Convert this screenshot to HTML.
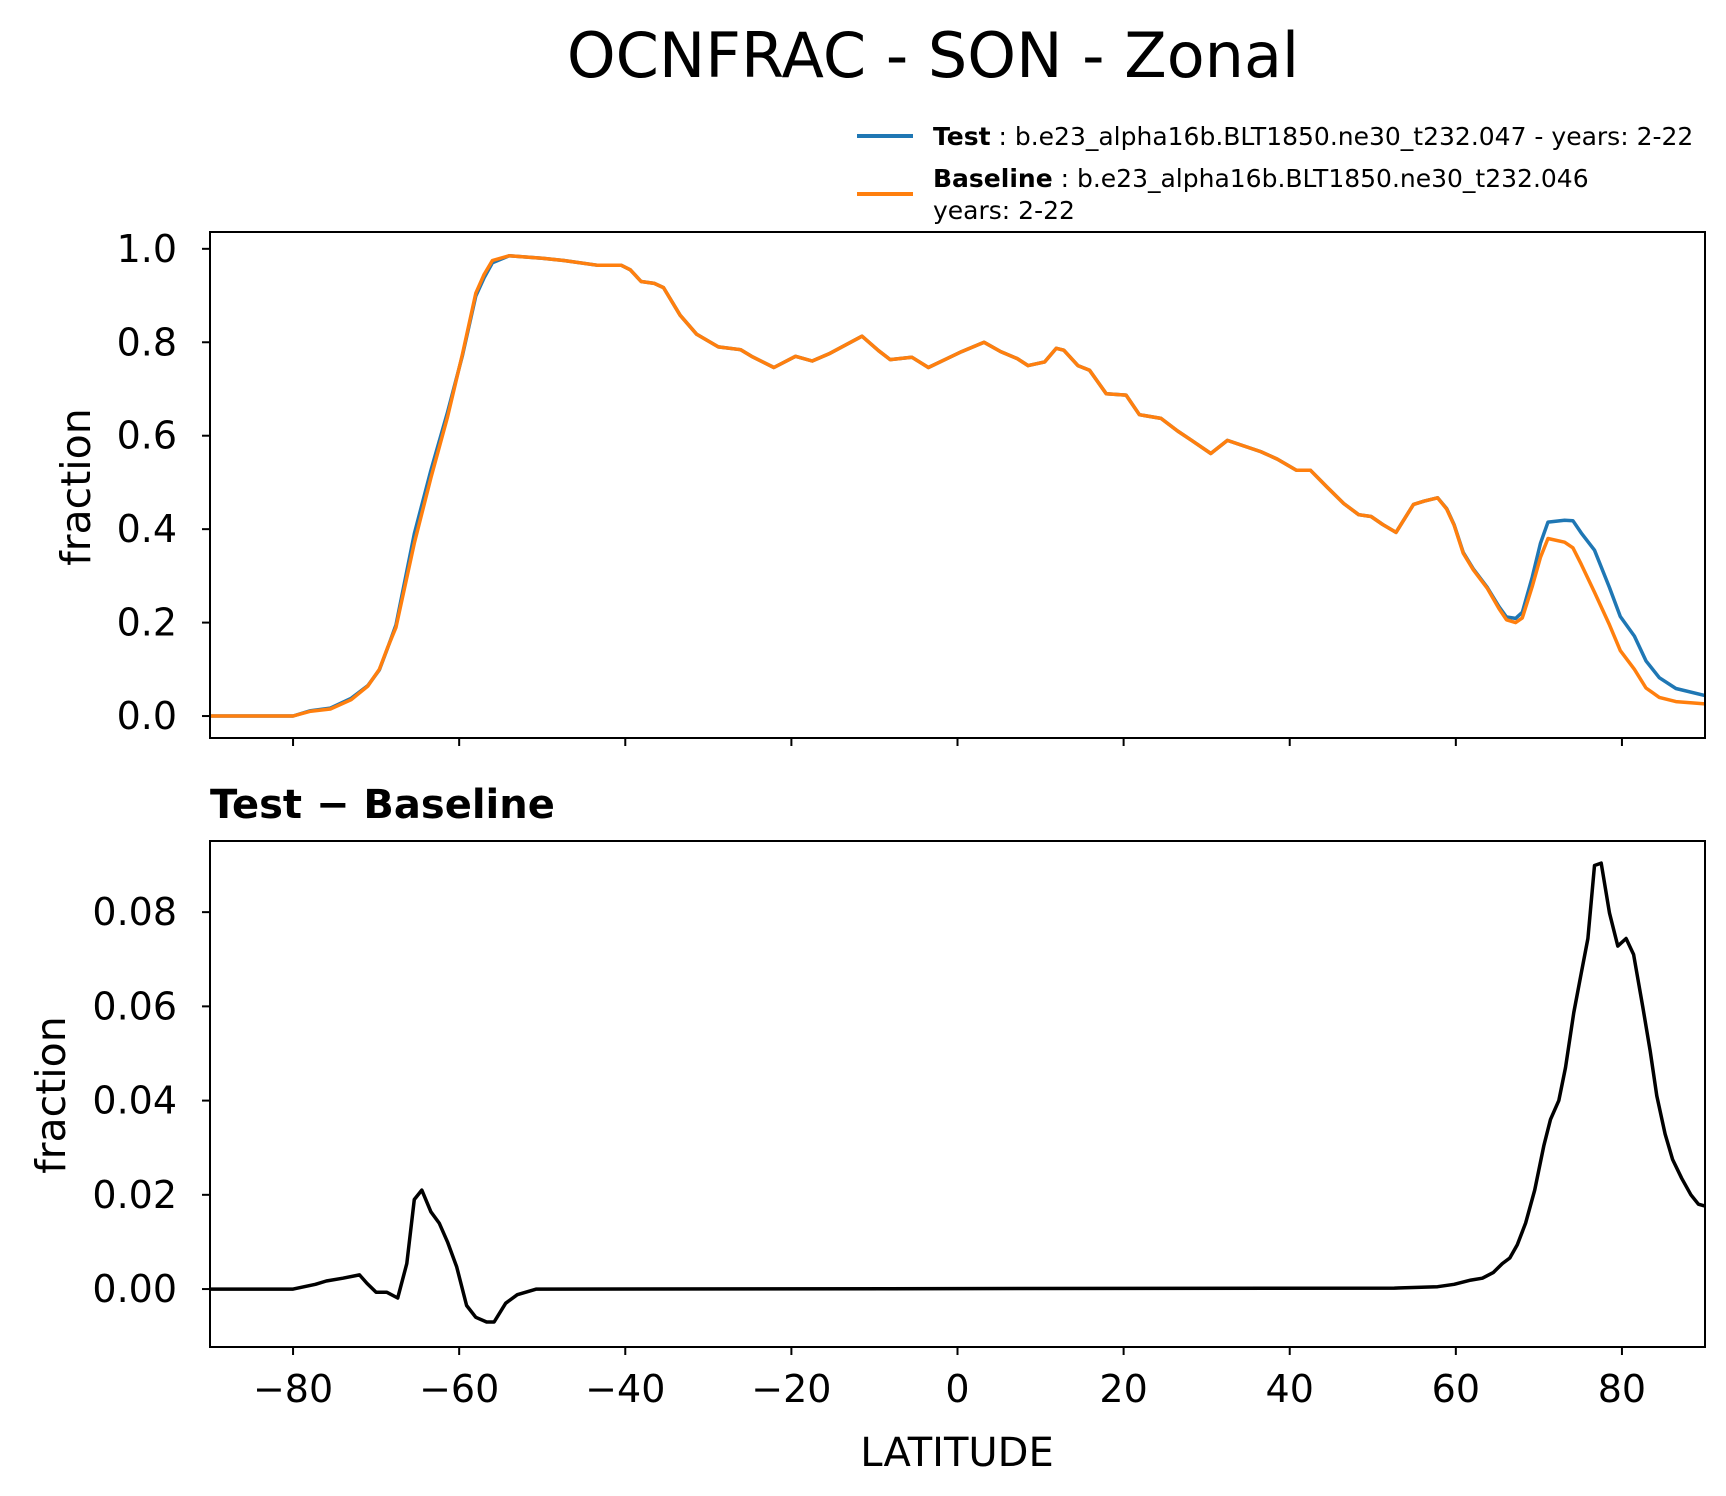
<!DOCTYPE html>
<html><head><meta charset="utf-8"><style>
html,body{margin:0;padding:0;background:#fff}
svg{display:block;font-family:"DejaVu Sans","Liberation Sans",sans-serif}
</style></head><body>
<svg id="chart" width="1726" height="1496" viewBox="0 0 1726 1496" xmlns="http://www.w3.org/2000/svg">
<text x="933" y="77" font-size="62" text-anchor="middle">OCNFRAC - SON - Zonal</text>
<g>
<line x1="857" y1="136" x2="913" y2="136" stroke="#1f77b4" stroke-width="4"/>
<text x="933" y="145" font-size="25"><tspan font-weight="bold">Test</tspan> : b.e23_alpha16b.BLT1850.ne30_t232.047 - years: 2-22</text>
<line x1="857" y1="194" x2="913" y2="194" stroke="#ff7f0e" stroke-width="4"/>
<text x="933" y="187" font-size="25"><tspan font-weight="bold">Baseline</tspan> : b.e23_alpha16b.BLT1850.ne30_t232.046</text>
<text x="933" y="219" font-size="25">years: 2-22</text>
</g>
<g id="top"></g>
<g id="bot"></g>
<text x="210" y="818" font-size="40" font-weight="bold">Test − Baseline</text>
<text x="957" y="1466" font-size="40" text-anchor="middle">LATITUDE</text>
<text transform="translate(90,487) rotate(-90)" font-size="41" text-anchor="middle">fraction</text>
<text transform="translate(65,1095) rotate(-90)" font-size="41" text-anchor="middle">fraction</text>
</svg>
<script>
const lats = [-90,-80,-78,-75.5,-73,-71,-69.6,-68.6,-67.6,-65.4,-63.4,-61.4,-59.6,-58,-57,-56,-54,-50,-47.4,-43.4,-40.5,-39.4,-38.1,-36.5,-35.4,-33.4,-31.4,-28.8,-26.1,-24.8,-22.1,-19.5,-17.5,-15.5,-13.5,-11.5,-9.5,-8.1,-5.5,-3.5,-1.5,0.5,3.2,5.2,7.2,8.5,10.5,11.9,12.8,14.5,15.9,17.9,20.3,21.9,24.5,26.5,28.2,30.5,32.5,34.5,36.5,38.5,40.8,42.5,44.5,46.5,48.3,49.8,51.2,52.8,54.9,56.2,57.8,58.9,59.8,60.9,62.1,63.8,65.2,66.1,67.2,68,69.2,70.2,71.1,73.1,74.1,75.1,76.7,78.5,79.8,81.5,82.9,84.5,86.5,90];
const baseline = [0,0,0.01,0.015,0.035,0.064,0.10,0.147,0.19,0.37,0.51,0.64,0.775,0.905,0.945,0.975,0.985,0.98,0.975,0.965,0.965,0.955,0.93,0.926,0.917,0.858,0.817,0.79,0.784,0.77,0.746,0.77,0.76,0.775,0.794,0.813,0.782,0.763,0.768,0.746,0.763,0.78,0.8,0.78,0.765,0.75,0.758,0.787,0.783,0.75,0.74,0.69,0.687,0.645,0.637,0.61,0.59,0.562,0.59,0.578,0.566,0.55,0.526,0.526,0.49,0.455,0.431,0.427,0.41,0.393,0.453,0.46,0.467,0.443,0.408,0.348,0.313,0.273,0.23,0.206,0.2,0.21,0.277,0.34,0.38,0.372,0.36,0.325,0.265,0.195,0.14,0.10,0.06,0.04,0.031,0.026];
const test = [0,0,0.011,0.017,0.038,0.065,0.099,0.146,0.195,0.39,0.526,0.65,0.772,0.899,0.938,0.97,0.985,0.98,0.975,0.965,0.965,0.955,0.93,0.926,0.917,0.858,0.817,0.79,0.784,0.77,0.746,0.77,0.76,0.775,0.794,0.813,0.782,0.763,0.768,0.746,0.763,0.78,0.8,0.78,0.765,0.75,0.758,0.787,0.783,0.75,0.74,0.69,0.687,0.645,0.637,0.61,0.59,0.562,0.59,0.578,0.566,0.55,0.526,0.526,0.49,0.455,0.431,0.427,0.41,0.393,0.453,0.46,0.467,0.444,0.409,0.35,0.315,0.275,0.234,0.212,0.209,0.222,0.297,0.37,0.415,0.419,0.418,0.392,0.355,0.275,0.213,0.171,0.118,0.082,0.059,0.044];
const diffLat = [-90,-80,-77.3,-76,-74,-72,-71.1,-70,-68.7,-67.4,-66.3,-65.4,-64.5,-63.4,-62.4,-61.4,-60.3,-59.1,-58,-56.7,-55.8,-54.4,-53,-50.7,52.6,57.8,59.8,61.8,63.2,64.5,65.6,66.5,67.4,68.4,69.5,70.6,71.4,72.4,73.2,74.2,75.1,75.9,76.7,77.5,78.5,79.5,80.5,81.4,82.5,83.4,84.2,85.2,86.1,87.2,88.3,89.2,90];
const diff = [0,0,0.001,0.0017,0.0023,0.003,0.0012,-0.0007,-0.0007,-0.0019,0.0054,0.019,0.021,0.0164,0.014,0.01,0.0047,-0.0035,-0.006,-0.007,-0.007,-0.003,-0.0012,0,0.0002,0.0005,0.001,0.0019,0.0023,0.0035,0.0054,0.0066,0.0094,0.014,0.021,0.0305,0.036,0.04,0.047,0.0587,0.067,0.0744,0.0899,0.0904,0.0798,0.0728,0.0744,0.071,0.06,0.0505,0.041,0.0329,0.0275,0.0235,0.02,0.018,0.0176];
const xTicks = [-80,-60,-40,-20,0,20,40,60,80];
const topTicks = [0,0.2,0.4,0.6,0.8,1.0];
const botTicks = [0,0.02,0.04,0.06,0.08];

const NS='http://www.w3.org/2000/svg';
const L=210,R=1705;
const xs=v=>L+(v+90)/180*(R-L);
const T={top:232,bot:738,min:-0.047,max:1.036};
const B={top:841,bot:1347,min:-0.0123,max:0.0951};
const ys=(p,v)=>p.bot-(v-p.min)/(p.max-p.min)*(p.bot-p.top);
function mk(tag,attrs,parent){const e=document.createElementNS(NS,tag);for(const k in attrs)e.setAttribute(k,attrs[k]);parent.appendChild(e);return e;}
function panel(g,p,ticks,fmt,showLabels){
  const fr=mk('rect',{x:L,y:p.top,width:R-L,height:p.bot-p.top,fill:'none',stroke:'#000','stroke-width':2},g);
  
  
  ticks.forEach(t=>{
    const y=ys(p,t);
    const tl=mk('line',{x1:L-8,x2:L,y1:y,y2:y,stroke:'#000','stroke-width':2},g);
    
    
    const tx=mk('text',{x:L-33,y:y+13,'font-size':38,'text-anchor':'end'},g);
    tx.textContent=fmt(t);
    
    
  });
  xTicks.forEach(t=>{
    const x=xs(t);
    const tl=mk('line',{x1:x,x2:x,y1:p.bot,y2:p.bot+8,stroke:'#000','stroke-width':2},g);
    
    
    if(showLabels){
      const tx=mk('text',{x:x,y:p.bot+55,'font-size':38,'text-anchor':'middle'},g);
      tx.textContent=(t<0?'\u2212':'')+Math.abs(t);
      
      
    }
  });
}
function line(g,p,xa,ya,color,name){
  const d=xa.map((x,i)=>(i?'L':'M')+xs(x).toFixed(1)+','+ys(p,ya[i]).toFixed(1)).join('');
  const cp=mk('clipPath',{id:'c'+name},g);
  mk('rect',{x:L,y:p.top,width:R-L,height:p.bot-p.top},cp);
  const pa=mk('path',{d:d,fill:'none',stroke:color,'stroke-width':3.5,'stroke-linejoin':'round','clip-path':'url(#c'+name+')'},g);
  
  
}
const gt=document.getElementById('top'),gb=document.getElementById('bot');
line(gt,T,lats,test,'#1f77b4','test-line');
line(gt,T,lats,baseline,'#ff7f0e','baseline-line');
panel(gt,T,topTicks,v=>v.toFixed(1),false);
line(gb,B,diffLat,diff,'#000','difference-line');
panel(gb,B,botTicks,v=>v.toFixed(2),true);
</script>
</body></html>
